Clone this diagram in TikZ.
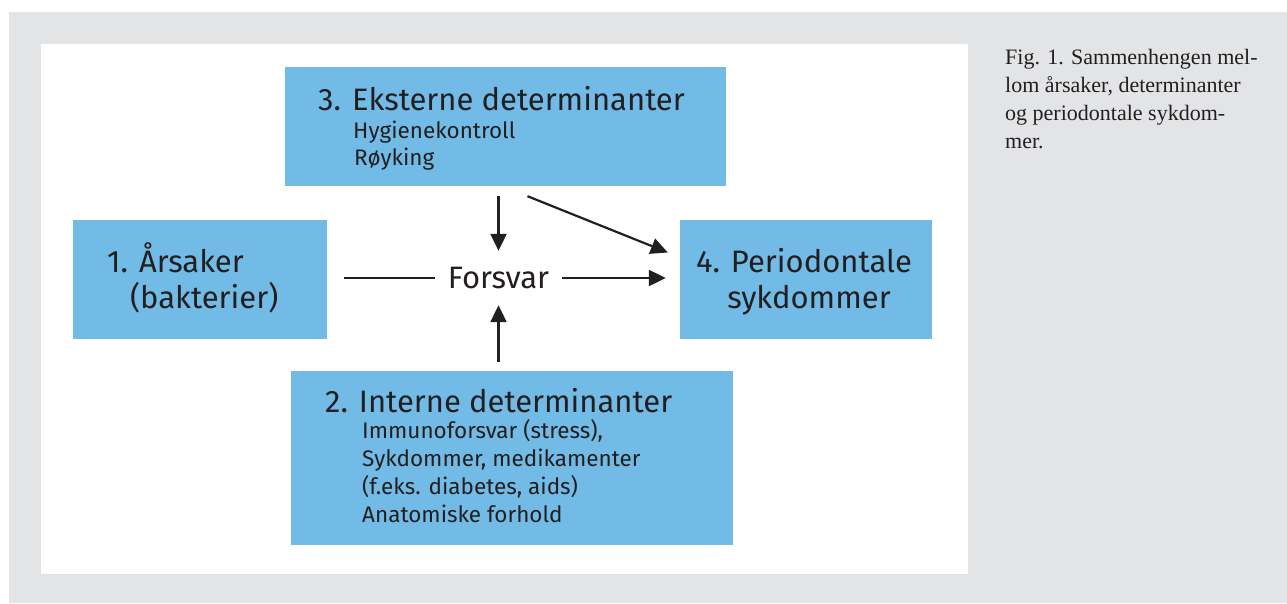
\documentclass[tikz,border=0pt]{standalone}
\usepackage{fontspec}
\setmainfont{Liberation Serif}
\setsansfont{Fira Sans}
\usetikzlibrary{arrows.meta, positioning, calc}

\definecolor{boxblue}{RGB}{114,187,230}
\definecolor{pagegray}{RGB}{227,228,230}
\definecolor{inkgray}{RGB}{35,31,32}

\begin{document}
\begin{tikzpicture}[
    x=1pt, y=-1pt,
    box/.style={fill=boxblue, draw=none, inner sep=0pt},
    head/.style={font=\sffamily\fontsize{31}{36}\selectfont, text=inkgray,
                 inner sep=0pt},
    sub/.style={font=\sffamily\fontsize{22.5}{26}\selectfont, text=inkgray,
                inner sep=0pt, anchor=base west},
    capline/.style={font=\rmfamily\fontsize{22}{28}\selectfont, text=inkgray,
                    inner sep=0pt, anchor=base west},
    arr/.style={-{Triangle[length=17pt, width=16pt]}, line width=2.2pt,
                draw=inkgray},
    >=Stealth
  ]
  \useasboundingbox (0,0) rectangle (1287,603);
  \fill[pagegray] (9,12) rectangle (1287,603);
  \fill[white] (41,44) rectangle (968,574);

  % boxes
  \node[box, minimum width=441pt, minimum height=119pt] (b3) at (505.5,126.5) {};
  \node[box, minimum width=254pt, minimum height=119pt] (b1) at (200,279.5) {};
  \node[box, minimum width=252pt, minimum height=119pt] (b4) at (806,279.5) {};
  \node[box, minimum width=442pt, minimum height=174pt] (b2) at (512,458) {};

  % box texts
  \node[head, anchor=base west] (t3) at (318,110) {3. Eksterne determinanter};
  \node[sub] (t3a) at (353,138) {Hygienekontroll};
  \node[sub] (t3b) at (354,165) {Røyking};

  \node[head, anchor=base west] (t1a) at (107,272) {1. Årsaker};
  \node[head, anchor=base west] (t1b) at (130,308) {(bakterier)};

  \node[head, anchor=base] (t4a) at (804,272) {4. Periodontale};
  \node[head, anchor=base] (t4b) at (809,308) {sykdommer};

  \node[head, anchor=base west] (t2) at (325,412) {2. Interne determinanter};
  \foreach \t [count=\i from 0] in {{Immunoforsvar (stress),},
      {Sykdommer, medikamenter}, {(f.eks. diabetes, aids)},
      {Anatomiske forhold}} {
    \node[sub] (t2\i) at (362,438+28.3*\i) {\t};
  }

  % centre
  \node[head, minimum height=54pt, inner xsep=13pt] (fv) at (498.5,278) {Forsvar};

  \draw[line width=2.2pt, draw=inkgray, shorten <=17pt]
    (fv.west -| b1.east) -- (fv.west);
  \draw[arr, shorten >=14pt] (fv.east) -- (fv.east -| b4.west);
  \draw[arr, shorten <=10pt] (fv.north |- b3.south) -- (fv.north);
  \draw[arr, shorten <=9pt] (fv.south |- b2.north) -- (fv.south);
  \draw[arr] ($(b3.south)+(22,10)$) -- ($(b4.west)+(-12,-27)$);

  % caption
  \foreach \t [count=\i from 0] in {{Fig. 1. Sammenhengen mel-},
      {lom årsaker, determinanter}, {og periodontale sykdom-}, {mer.}} {
    \node[capline] (cap\i) at (1005,64+28*\i) {\t};
  }
\end{tikzpicture}
\end{document}
